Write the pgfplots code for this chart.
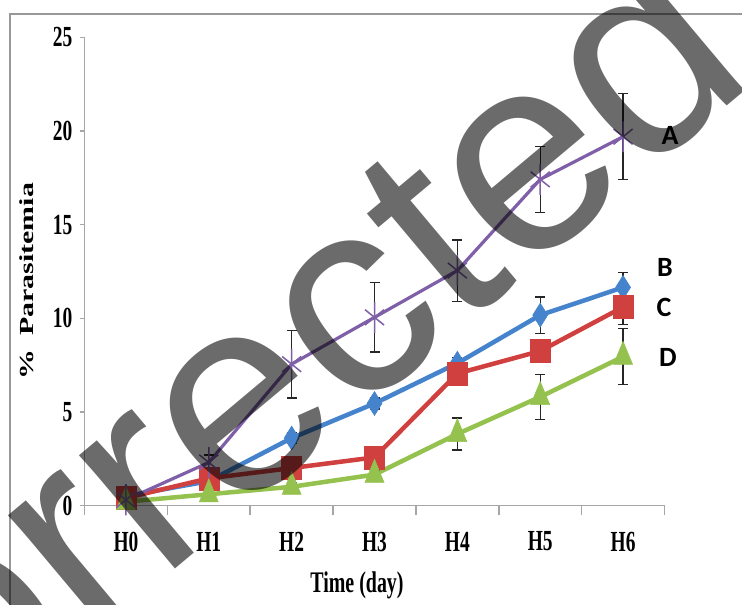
\documentclass[border=0pt]{standalone}
\usepackage{pgfplots}
\pgfplotsset{compat=1.18}
\usepackage{fontspec}
\setmainfont{Liberation Serif}
\newfontfamily\wmfont{Liberation Sans}
\newfontfamily\calfont{Carlito}
\usepackage{graphicx}
\definecolor{cA}{HTML}{7E5FA8}
\definecolor{cB}{HTML}{4584CD}
\definecolor{cC}{HTML}{D0403E}
\definecolor{cD}{HTML}{95C24E}
\definecolor{axgray}{HTML}{A6A6A6}
\newcommand{\st}[1]{\scalebox{1}[1.5]{#1}}
\begin{document}
\begin{tikzpicture}[x=1bp,y=1bp]
\useasboundingbox (0,0) rectangle (742,605);
\fill[white] (0,0) rectangle (742,605);
\draw[black!40, line width=2bp] (10,0) -- (10,591) -- (742,591);
\begin{axis}[
  at={(84.5bp,99.5bp)}, anchor=south west,
  scale only axis, width=580bp, height=468bp,
  xmin=-0.5, xmax=6.5, ymin=0, ymax=25,
  axis x line=bottom, axis y line=left,
  axis line style={-, draw=axgray, line width=1.5bp},
  tick align=outside,
  xtick={0,1,2,3,4,5,6},
  xticklabels={\st{H0},\st{H1},\st{H2},\st{H3},\st{H4},\st{H5},\st{H6}},
  major x tick style={draw=none},
  minor xtick={-0.5,0.5,1.5,2.5,3.5,4.5,5.5,6.5},
  minor tick length=10bp,
  minor x tick style={draw=axgray, line width=1.5bp},
  ytick={0,5,10,15,20,25},
  major tick length=5bp,
  major y tick style={draw=axgray, line width=1.5bp},
  /pgf/number format/assume math mode=true,
  yticklabel={\st{\pgfmathprintnumber{\tick}}},
  ticklabel style={font=\bfseries\fontsize{19.5}{19.5}\selectfont},
  xticklabel style={anchor=center, inner sep=0pt, yshift=-31bp},
  yticklabel style={anchor=east, inner sep=0pt, xshift=-7bp},
  clip=false,
  error bars/error bar style={line width=1.3bp, black!85},
  error bars/error mark options={rotate=90, mark size=5bp, line width=1.3bp, black!85},
]
% B
\addplot+[cB, line width=4.5bp, mark=diamond*, mark size=10bp,
  mark options={solid, fill=cB, draw=cB, line width=0.5bp, yscale=1.2},
  error bars/.cd, y dir=both, y explicit]
  coordinates {(0,0.5)+-(0,0.1) (1,1.3)+-(0,0.2) (2,3.6)+-(0,0.3) (3,5.45)+-(0,0.3)
               (4,7.6)+-(0,0.3) (5,10.17)+-(0,0.97) (6,11.65)+-(0,0.78)};
% C
\addplot+[cC, line width=4.5bp, mark=square*, mark size=10bp,
  mark options={solid, fill=cC, draw=cC, line width=0.5bp, yscale=1.15},
  error bars/.cd, y dir=both, y explicit]
  coordinates {(0,0.4)+-(0,0.1) (1,1.45)+-(0,0.2) (2,2.0)+-(0,0.3) (3,2.57)+-(0,0.3)
               (4,7.05)+-(0,0.3) (5,8.25)+-(0,0.4) (6,10.6)+-(0,0.92)};
% D
\addplot+[cD, line width=4.5bp, mark=triangle*, mark size=11bp,
  mark options={solid, fill=cD, draw=cD, line width=0.5bp, yscale=1.4},
  error bars/.cd, y dir=both, y explicit]
  coordinates {(0,0.2)+-(0,0.05) (1,0.6)+-(0,0.1) (2,1.0)+-(0,0.2) (3,1.65)+-(0,0.2)
               (4,3.82)+-(0,0.85) (5,5.8)+-(0,1.2) (6,7.95)+-(0,1.5)};
% A
\addplot+[cA, line width=3.2bp, mark=asterisk, mark size=11bp,
  mark options={solid, draw=cA, line width=1.5bp, yscale=1.4},
  error bars/.cd, y dir=both, y explicit]
  coordinates {(0,0.3)+-(0,0.1) (1,2.3)+-(0,0.4) (2,7.55)+-(0,1.8) (3,10.05)+-(0,1.85)
               (4,12.55)+-(0,1.64) (5,17.42)+-(0,1.76) (6,19.7)+-(0,2.3)};
\end{axis}
\node[rotate=90, inner sep=0pt] at (27,324) {\scalebox{1.5}[1]{\bfseries\fontsize{20}{20}\selectfont \%\hspace{0.45em}Parasitemia}};
\node[inner sep=0pt] at (357,20) {\st{\bfseries\fontsize{20}{20}\selectfont Time (day)}};
\node[inner sep=0pt] at (670,470) {\calfont\bfseries\fontsize{28}{28}\selectfont A};
\node[inner sep=0pt] at (665,338) {\calfont\bfseries\fontsize{28}{28}\selectfont B};
\node[inner sep=0pt] at (664,298) {\calfont\bfseries\fontsize{28}{28}\selectfont C};
\node[inner sep=0pt] at (668,248) {\calfont\bfseries\fontsize{28}{28}\selectfont D};
\begin{scope}
\clip (0,0) rectangle (742,605);
\node[rotate=40, inner sep=0pt, text=black, text opacity=0.58] at (222,206) {\wmfont\fontsize{282}{282}\selectfont Corrected};
\end{scope}
\end{tikzpicture}
\end{document}
